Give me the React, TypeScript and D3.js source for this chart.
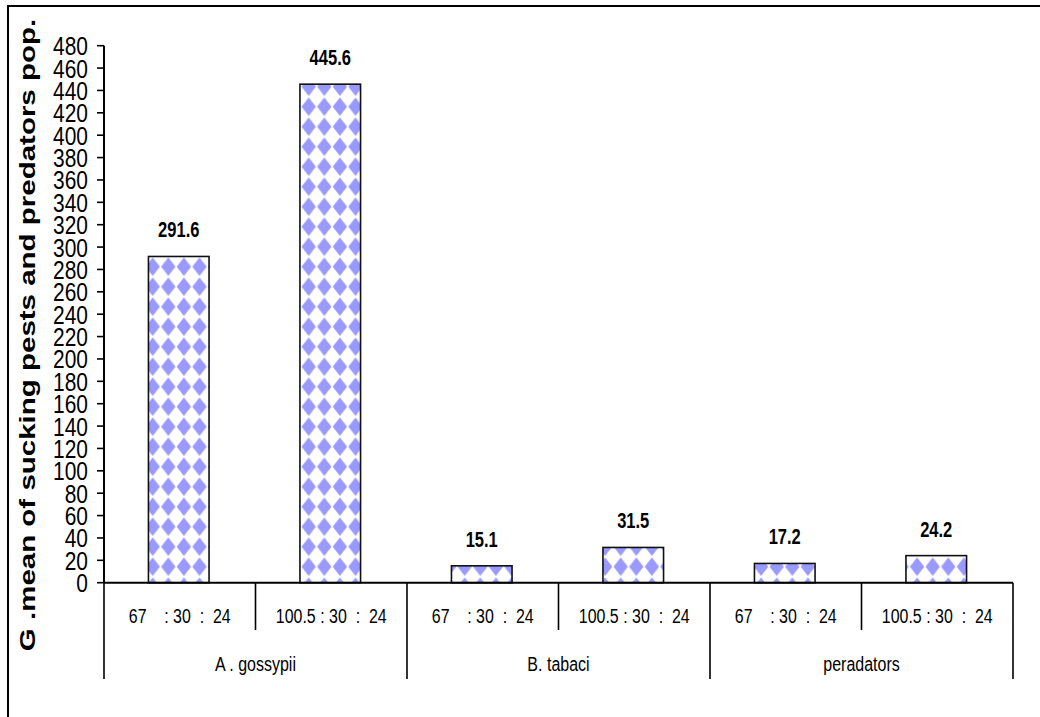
import React from "react";
import * as d3 from "d3";

// Treatment ratios (sub-categories), repeated inside each group
const treatments = ["67    : 30  :  24", "100.5 : 30  :  24"];
// Insect groups
const groups = ["A . gossypii", "B. tabaci", "peradators"];
// Geometric mean population per bar, in group order
const values = [291.6, 445.6, 15.1, 31.5, 17.2, 24.2];
// Y-axis ticks
const yTicks = d3.range(0, 481, 20);

const W = 1040;
const H = 717;
const FONT = "'Liberation Sans', Arial, sans-serif";

const yAxisX = 104;
const xRight = 1013;
const y0 = 582.7;
const yTop = 45.7;

function Label(props: {
  x: number;
  y: number;
  sx: number;
  size: number;
  anchor?: string;
  weight?: string;
  children: React.ReactNode;
}) {
  const { x, y, sx, size, anchor = "middle", weight = "normal", children } = props;
  return (
    <text
      transform={`translate(${x},${y}) scale(${sx},1)`}
      textAnchor={anchor}
      fontFamily={FONT}
      fontSize={size}
      fontWeight={weight}
      fill="#000"
      style={{ whiteSpace: "pre" }}
    >
      {children}
    </text>
  );
}

export default function App() {
  const y = d3.scaleLinear().domain([0, 480]).range([y0, yTop]);
  const cats = values.map((_, i) => `${groups[Math.floor(i / 2)]}|${treatments[i % 2]}`);
  const x = d3.scaleBand<string>().domain(cats).range([yAxisX, xRight]).padding(0);
  const bw = x.bandwidth();
  const barW = bw * 0.4;

  return (
    <svg
      width={W}
      height={H}
      viewBox={`0 0 ${W} ${H}`}
      style={{ position: "fixed", left: 0, top: 0, background: "#fff", display: "block" }}
    >
      <defs>
        <pattern
          id="diamonds"
          patternUnits="userSpaceOnUse"
          width={15.6}
          height={20}
          x={144.9}
          y={556.7}
        >
          <rect width={15.6} height={20} fill="#fff" />
          <polygon points="7.8,0.8 15,10 7.8,19.2 0.6,10" fill="#9999ff" />
        </pattern>
      </defs>

      {/* outer frame */}
      <rect x={8} y={6} width={1200} height={900} fill="none" stroke="#000" strokeWidth={2} />

      {/* y-axis title */}
      <text
        transform={`translate(35,335) scale(0.72,1) rotate(-90)`}
        textAnchor="middle"
        fontFamily={FONT}
        fontSize={29.5}
        fontWeight="bold"
        fill="#000"
      >
        G .mean of sucking pests and predators pop.
      </text>

      {/* bars */}
      {values.map((v, i) => {
        const cx = (x(cats[i]) as number) + bw / 2 - 1;
        return (
          <g key={i}>
            <rect
              x={cx - barW / 2}
              y={y(v)}
              width={barW}
              height={y(0) - y(v)}
              fill="url(#diamonds)"
              stroke="#111"
              strokeWidth={1.6}
            />
            <Label x={cx} y={y(v) - 19} sx={0.75} size={22} weight="bold">
              {v.toFixed(1)}
            </Label>
          </g>
        );
      })}

      {/* y axis */}
      <line x1={yAxisX} x2={yAxisX} y1={y(480)} y2={y(0)} stroke="#000" strokeWidth={2} />
      {yTicks.map((t) => (
        <g key={t}>
          <line x1={yAxisX - 7} x2={yAxisX} y1={y(t)} y2={y(t)} stroke="#000" strokeWidth={1.6} />
          <Label x={88} y={y(t) + 9.5} sx={0.79} size={26.5} anchor="end">
            {t}
          </Label>
        </g>
      ))}

      {/* x axis */}
      <line x1={yAxisX} x2={xRight} y1={y(0)} y2={y(0)} stroke="#000" strokeWidth={2} />

      {/* treatment separators and labels */}
      {cats.map((c, i) => {
        const left = x(c) as number;
        return (
          <g key={c}>
            {i % 2 === 1 && (
              <line x1={left} x2={left} y1={y(0)} y2={630} stroke="#000" strokeWidth={1.6} />
            )}
            <Label x={left + bw / 2} y={623} sx={0.76} size={21}>
              {treatments[i % 2]}
            </Label>
          </g>
        );
      })}

      {/* group separators and labels */}
      {groups.map((g, gi) => {
        const left = x(cats[gi * 2]) as number;
        return (
          <g key={g}>
            <line x1={left} x2={left} y1={y(0)} y2={679} stroke="#000" strokeWidth={1.6} />
            <Label x={left + bw} y={671} sx={0.8} size={20}>
              {g}
            </Label>
          </g>
        );
      })}
      <line x1={xRight} x2={xRight} y1={y(0)} y2={679} stroke="#000" strokeWidth={1.6} />
    </svg>
  );
}
